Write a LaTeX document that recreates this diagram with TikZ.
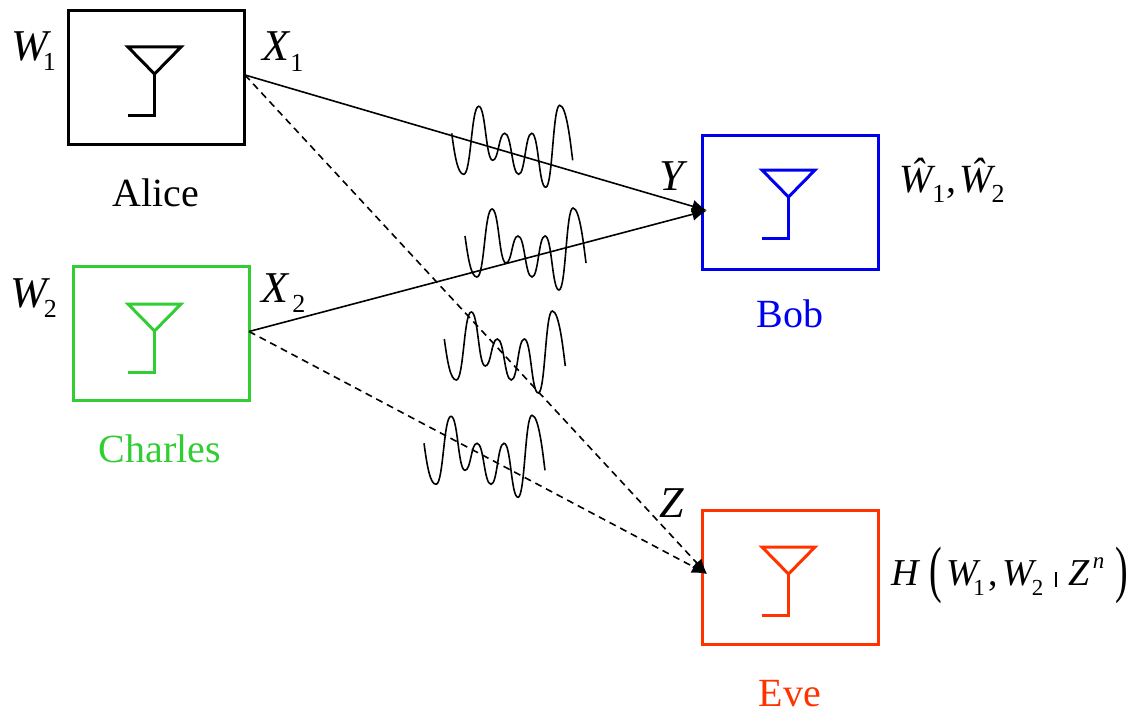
\documentclass[tikz,border=0pt]{standalone}
\usepackage{fontspec}
\usepackage{graphicx}
\setmainfont{Liberation Serif}
\usetikzlibrary{arrows.meta}
\definecolor{chgreen}{RGB}{50,205,50}
\definecolor{bobblue}{RGB}{0,0,240}
\definecolor{everd}{RGB}{255,51,0}
\newcommand{\mi}[1]{\textit{#1}}
\newcommand{\sbs}[1]{\raisebox{-10.5pt}{\fontsize{26}{26}\selectfont #1}}
\newcommand{\sbt}[1]{\raisebox{-10.5pt}{\fontsize{23}{23}\selectfont #1}}
\newcommand{\hatW}{\textit{\^{W}}}
\newcommand{\bigparen}[1]{\raisebox{-5pt}{\scalebox{1}[1.65]{\fontsize{38}{38}\selectfont #1}}}
\tikzset{
  x=1pt,y=-1pt,
  radio/.style={draw=#1,line width=3pt,minimum width=176pt,minimum height=134pt,inner sep=0pt,outer sep=0pt},
  lab/.style={inner sep=0pt,outer sep=0pt,anchor=base,font=\fontsize{40}{40}\selectfont},
  mlab/.style={inner sep=0pt,outer sep=0pt,anchor=base west,font=\fontsize{44}{44}\selectfont},
  link/.style={line width=1.6pt,-{Latex[length=15pt,width=13pt]}},
  tap/.style={line width=1.6pt,dash pattern=on 7pt off 5pt,-{Latex[length=15pt,width=13pt]}},
  wave/.style={line width=1.6pt,black},
  antenna/.pic={
    \draw[line width=3pt,pic actions,line join=miter] (-26.5,0) -- (26.5,0) -- (0,27) -- cycle;
    \draw[line width=3pt,pic actions,line join=miter] (0,27) -- (0,68) -- (-26.5,68);
  },
  noise/.pic={
    \draw[wave] (0,0) .. controls (3,22) and (6,41) .. (12,41)
      .. controls (19.5,41) and (19.5,-27) .. (27,-27)
      .. controls (34,-27) and (34,27) .. (41,27)
      .. controls (47,27) and (47,0) .. (53,0)
      .. controls (60,0) and (60,41) .. (67,41)
      .. controls (73.5,41) and (73.5,0) .. (80,0)
      .. controls (87,0) and (87,54) .. (94,54)
      .. controls (101,54) and (101,-28) .. (108,-28)
      .. controls (115,-28) and (119,12) .. (121,27);
  }
}
\begin{document}
\begin{tikzpicture}
\useasboundingbox (0,0) rectangle (1134,709);
\node[radio=black] (alice) at (156,77.5) {};
\node[radio=chgreen] (charles) at (161,333.5) {};
\node[radio=bobblue] (bob) at (790.5,202.5) {};
\node[radio=everd] (eve) at (790.5,577) {};
\coordinate (aliceout) at (245,75);
\coordinate (charlesout) at (249,331.5);
\coordinate (bobin) at (707,210.5);
\coordinate (evein) at (707,574);
\pic[black] at (154.5,47) {antenna};
\pic[chgreen] at (154.5,304) {antenna};
\pic[bobblue] at (788.5,170) {antenna};
\pic[everd] at (788.5,547) {antenna};
\draw[link] (aliceout) -- (bobin);
\draw[link] (charlesout) -- (bobin);
\draw[tap] (aliceout) -- (evein);
\draw[tap] (charlesout) -- (evein);
\pic at (451.7,133.3) {noise};
\pic at (465,236) {noise};
\pic at (444.3,339) {noise};
\pic at (424,443.3) {noise};
\node[lab] (lalice) at (156,206.5) {Alice};
\node[lab,text=chgreen] (lcharles) at (160,462) {Charles};
\node[lab,text=bobblue] (lbob) at (790,327) {Bob};
\node[lab,text=everd] (leve) at (790,706) {Eve};
\node[mlab] (w1) at (11,60) {\mi{W}\kern-8pt\sbs{1}};
\node[mlab] (w2) at (10,307) {\mi{W}\kern-6pt\sbs{2}};
\node[mlab] (x1) at (262,60.5) {\mi{X}\kern0pt\sbs{1}};
\node[mlab] (x2) at (261,302) {\mi{X}\kern3pt\sbs{2}};
\node[mlab] (y) at (659,190) {\mi{Y}};
\node[mlab] (z) at (659,517) {\mi{Z}};
\node[mlab,font=\fontsize{40}{40}\selectfont] (what) at (899,192) {\hatW\kern-3pt\sbs{1}\kern1pt,\kern3pt\hatW\kern-4pt\sbs{2}};
\node[mlab,font=\fontsize{38}{38}\selectfont] (h) at (891,585) {\mi{H}\kern9pt\bigparen{(}\kern5pt\mi{W}\kern-8pt\sbt{1}\kern4pt,\kern4pt\mi{W}\kern-5pt\sbt{2}\kern12pt\rule[-2pt]{2pt}{15pt}\kern11pt\mi{Z}\kern3pt\raisebox{17pt}{\fontsize{23}{23}\selectfont\mi{n}}\kern11pt\bigparen{)}};
\end{tikzpicture}
\end{document}
